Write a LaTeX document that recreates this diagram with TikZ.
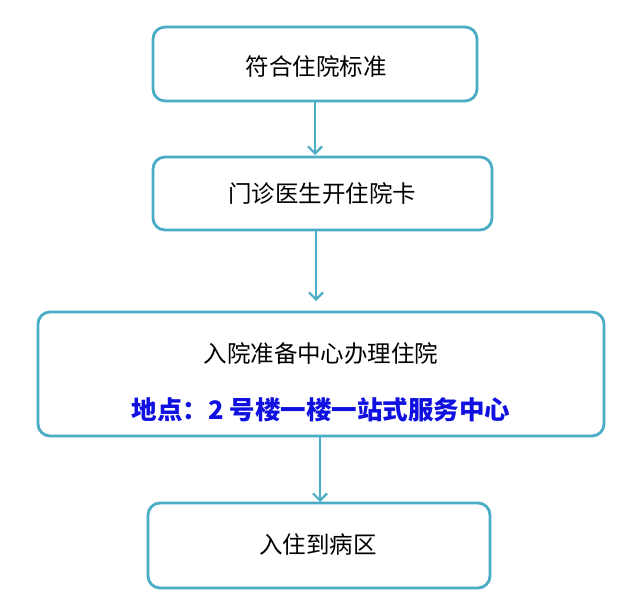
\documentclass[tikz,border=0pt]{standalone}
\usepackage{fontspec}
\newfontfamily\cjk{Noto Sans CJK SC}
\usetikzlibrary{arrows.meta}
\definecolor{teal1}{HTML}{4BACC6}
\definecolor{blu}{HTML}{1010E0}
\tikzset{box/.style={draw=teal1,line width=2.8pt,rounded corners=12pt,fill=white},
 arr/.style={draw=teal1,line width=2.2pt,-{Straight Barb[length=7pt,width=14pt]}},
 txt/.style={font=\cjk\fontsize{23.5}{26}\selectfont}}
\begin{document}
\begin{tikzpicture}[x=1pt,y=-1pt]
\useasboundingbox (0,0) rectangle (641,610);
\draw[box] (153,27) rectangle (477,101);
\node[txt] (t1) at (316,66) {符合住院标准};
\draw[box] (153,157) rectangle (492,230);
\node[txt] (t2) at (322,194) {门诊医生开住院卡};
\draw[box] (38,312) rectangle (604,436);
\node[txt] (t3) at (321,354) {入院准备中心办理住院};
\node[txt,text=blu,font=\cjk\bfseries\fontsize{25.5}{28}\selectfont] (t3b) at (321,410) {地点：2 号楼一楼一站式服务中心};
\draw[box] (148,503) rectangle (490,588);
\node[txt] (t4) at (318,545) {入住到病区};
\coordinate (a1) at (315,102); \coordinate (b1) at (315,155);
\coordinate (a2) at (316,231); \coordinate (b2) at (316,301);
\coordinate (a3) at (320,437); \coordinate (b3) at (320,502);
\draw[arr] (a1) -- (b1);
\draw[arr] (a2) -- (b2);
\draw[arr] (a3) -- (b3);
\end{tikzpicture}
\end{document}
